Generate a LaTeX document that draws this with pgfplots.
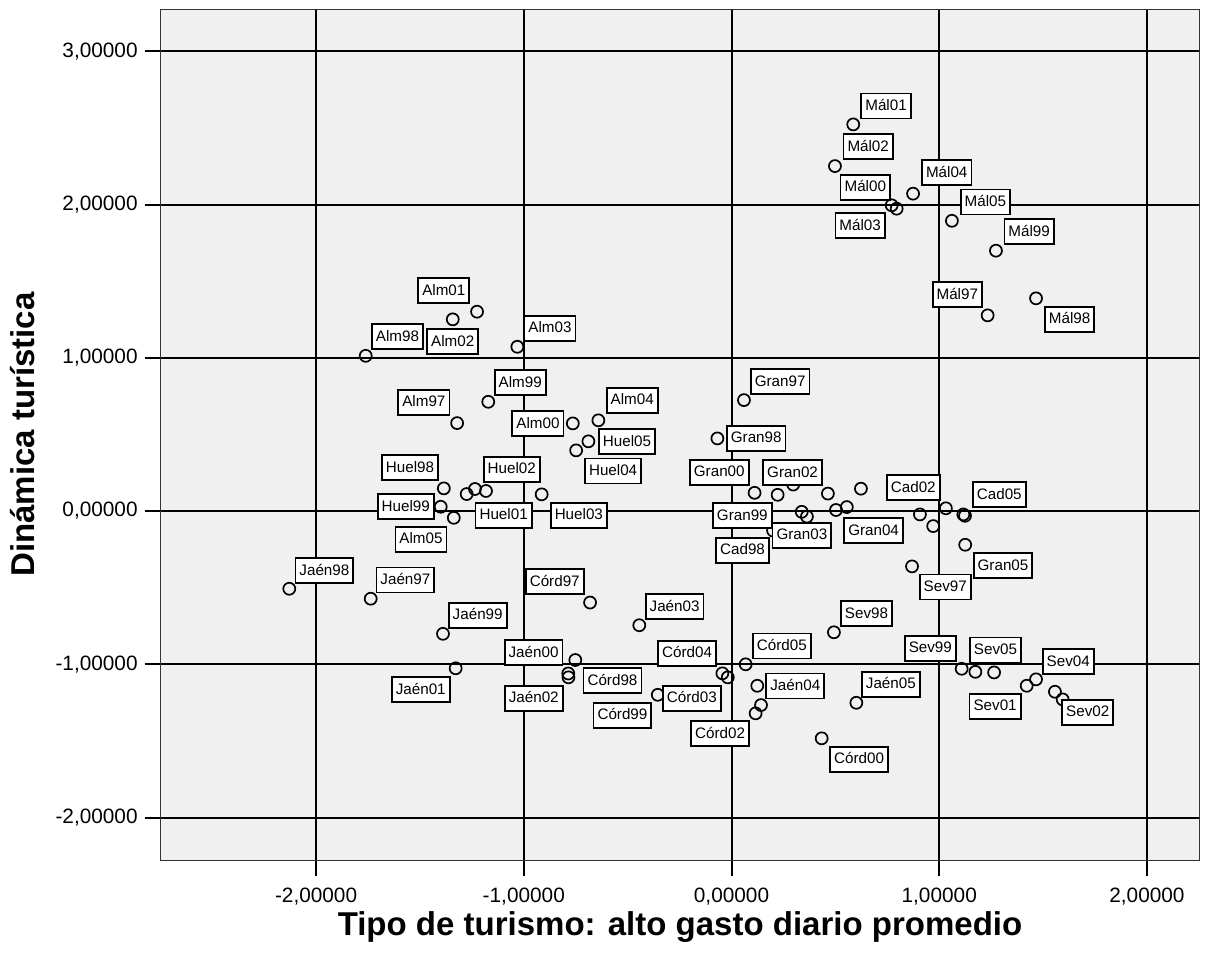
\documentclass[border=0pt]{standalone}
\usepackage{fontspec}
\setmainfont{Liberation Sans}
\usepackage{pgfplots}
\pgfplotsset{compat=1.18}
\definecolor{bgc}{HTML}{F0F0F0}
\begin{document}
\begin{tikzpicture}
\begin{axis}[
  scale only axis, width=519.3pt, height=425.5pt,
  xmin=-2.748, xmax=2.252, ymin=-2.277, ymax=3.276,
  axis background/.style={fill=bgc},
  axis line style={draw=black!80, line width=0.5pt},
  xtick={-2,-1,0,1,2}, ytick={-2,-1,0,1,2,3},
  xticklabels={{-2,00000},{-1,00000},{0,00000},{1,00000},{2,00000}},
  yticklabels={{-2,00000},{-1,00000},{0,00000},{1,00000},{2,00000},{3,00000}},
  tick align=outside, xtick pos=bottom, ytick pos=left,
  major tick length=8pt,
  tick style={black, line width=1pt},
  grid=major, major grid style={black, line width=1pt},
  ticklabel style={font=\fontsize{10.4}{12}\selectfont},
  xticklabel style={yshift=-2.5pt},
  xlabel={Tipo de turismo: alto gasto diario promedio},
  ylabel={Dinámica turística},
  label style={font=\fontsize{16.5}{20}\selectfont\bfseries},
  xlabel style={at={(axis description cs:0.5,-0.079)}, anchor=center},
  ylabel style={at={(axis description cs:-0.1326,0.5)}, anchor=center},
]
\addplot[only marks, mark=o, mark size=3pt, mark options={draw=black, line width=0.85pt}] table {
x y
0.586 2.523
0.498 2.251
0.874 2.071
0.771 1.995
0.795 1.973
1.061 1.894
1.273 1.699
1.466 1.388
1.233 1.277
-1.225 1.301
-1.342 1.251
-1.031 1.072
-1.761 1.013
-1.171 0.713
-1.321 0.574
-0.764 0.572
-0.641 0.592
-0.689 0.455
-0.748 0.396
-1.385 0.148
-1.275 0.111
-1.235 0.144
-1.182 0.131
-0.914 0.109
-1.400 0.028
-1.337 -0.044
0.060 0.724
-0.068 0.474
0.111 0.119
0.222 0.106
0.297 0.173
0.464 0.114
0.623 0.146
0.338 -0.005
0.363 -0.036
0.503 0.007
0.555 0.026
0.200 -0.127
0.907 -0.022
1.032 0.018
0.971 -0.098
1.116 -0.022
1.124 -0.031
1.125 -0.220
0.869 -0.361
-2.129 -0.507
-1.737 -0.572
-1.389 -0.801
-1.328 -1.026
-0.681 -0.597
-0.444 -0.745
-0.752 -0.972
-0.786 -1.060
-0.785 -1.085
-0.355 -1.199
-0.044 -1.059
-0.018 -1.085
0.068 -1.000
0.124 -1.140
0.142 -1.266
0.116 -1.320
0.601 -1.251
0.434 -1.483
0.493 -0.791
1.108 -1.029
1.174 -1.049
1.264 -1.053
1.466 -1.098
1.421 -1.140
1.557 -1.179
1.594 -1.229
};
\addplot[draw=none, mark=none, nodes near coords, point meta=explicit symbolic,
  every node near coord/.append style={anchor=center, draw=black, line width=0.9pt, fill=white,
    font=\fontsize{7.6}{9}\selectfont, inner xsep=2pt, inner ysep=0pt,
    minimum height=12.5pt, text height=6.2pt, text depth=1.6pt}]
  table[x=x, y=y, meta=label] {
x y label
0.744 2.643 Mál01
0.658 2.377 Mál02
1.036 2.208 Mál04
0.644 2.112 Mál00
0.619 1.862 Mál03
1.222 2.016 Mál05
1.433 1.824 Mál99
1.628 1.251 Mál98
1.087 1.412 Mál97
-1.385 1.437 Alm01
-1.342 1.104 Alm02
-1.608 1.137 Alm98
-0.874 1.193 Alm03
-1.017 0.839 Alm99
-1.481 0.710 Alm97
-0.932 0.569 Alm00
-0.478 0.723 Alm04
-0.503 0.454 Huel05
-0.570 0.262 Huel04
-1.548 0.284 Huel98
-1.058 0.273 Huel02
-1.568 0.029 Huel99
-1.097 -0.027 Huel01
-0.735 -0.027 Huel03
-1.495 -0.183 Alm05
0.234 0.845 Gran97
0.119 0.475 Gran98
-0.059 0.253 Gran00
0.294 0.251 Gran02
0.052 -0.031 Gran99
0.339 -0.158 Gran03
0.053 -0.256 Cad98
0.875 0.152 Cad02
1.289 0.106 Cad05
0.684 -0.129 Gran04
1.307 -0.357 Gran05
1.029 -0.496 Sev97
-1.960 -0.388 Jaén98
-1.570 -0.450 Jaén97
-1.222 -0.679 Jaén99
-0.953 -0.925 Jaén00
-1.496 -1.165 Jaén01
-0.952 -1.222 Jaén02
-0.851 -0.462 Córd97
-0.573 -1.107 Córd98
-0.274 -0.623 Jaén03
-0.214 -0.927 Córd04
0.242 -0.880 Córd05
-0.191 -1.222 Córd03
-0.525 -1.333 Córd99
-0.055 -1.454 Córd02
0.307 -1.141 Jaén04
0.650 -0.670 Sev98
0.767 -1.130 Jaén05
0.614 -1.620 Córd00
0.957 -0.896 Sev99
1.271 -0.906 Sev05
1.621 -0.982 Sev04
1.269 -1.274 Sev01
1.715 -1.313 Sev02
};
\end{axis}
\path ([shift={(-80.35pt,-47.5pt)}]current axis.south west) rectangle ([shift={(3.85pt,4.5pt)}]current axis.north east);
\end{tikzpicture}
\end{document}
